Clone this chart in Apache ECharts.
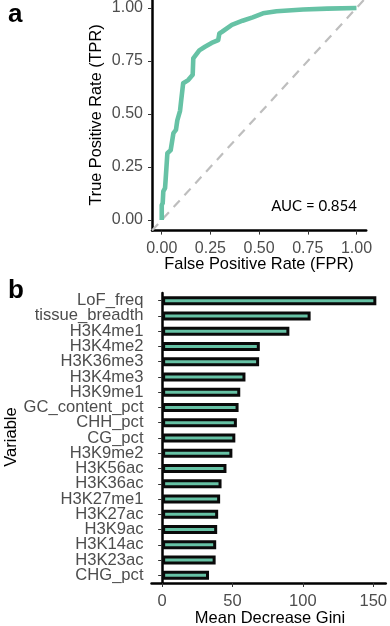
<!DOCTYPE html>
<html>
<head>
<meta charset="utf-8">
<script src="https://cdn.jsdelivr.net/npm/echarts@6/dist/echarts.min.js"></script>
<style>
html,body{margin:0;padding:0;background:#fff;}
#chart{width:390px;height:626px;}
</style>
</head>
<body>
<div id="chart"></div>
<script>
// ---- Panel a: ROC curve ----
const rocFPR = [0, 0, 0.005, 0.008, 0.017, 0.02, 0.029, 0.046, 0.06, 0.073, 0.08, 0.094, 0.10, 0.11, 0.136, 0.159, 0.162, 0.193, 0.222, 0.256, 0.29, 0.296, 0.31, 0.36, 0.415, 0.467, 0.52, 0.59, 0.726, 0.85, 1.0];
const rocTPR = [0, 0.07, 0.08, 0.135, 0.15, 0.19, 0.315, 0.33, 0.41, 0.425, 0.47, 0.515, 0.565, 0.645, 0.66, 0.685, 0.762, 0.80, 0.817, 0.835, 0.848, 0.88, 0.888, 0.92, 0.94, 0.956, 0.975, 0.985, 0.993, 0.997, 1.0];
const chanceLine = [[-0.05, -0.05], [1.05, 1.05]];
const rocTicks = [0, 0.25, 0.5, 0.75, 1];
const aucText = 'AUC = 0.854';

// ---- Panel b: variable importance ----
const variables = ['LoF_freq', 'tissue_breadth', 'H3K4me1', 'H3K4me2', 'H3K36me3', 'H3K4me3', 'H3K9me1', 'GC_content_pct', 'CHH_pct', 'CG_pct', 'H3K9me2', 'H3K56ac', 'H3K36ac', 'H3K27me1', 'H3K27ac', 'H3K9ac', 'H3K14ac', 'H3K23ac', 'CHG_pct'];
const giniValues = [152.2, 105.5, 90.4, 69.4, 68.9, 59.2, 55.5, 54.3, 53.1, 52.0, 49.9, 45.7, 42.2, 41.2, 39.8, 39.1, 38.4, 38.0, 33.3];
const giniTicks = [0, 50, 100, 150];

const FONT = "'Liberation Sans', Arial, Helvetica, sans-serif";
const GREEN = '#66C2A5';
const LABEL_COL = '#4D4D4D';

const rocData = rocFPR.map((x, i) => [x, rocTPR[i]]);

const chart = echarts.init(document.getElementById('chart'), null, {renderer: 'canvas'});
const option = {
  backgroundColor: '#ffffff',
  animation: false,
  grid: [
    {left: 152, top: 0, width: 214.2, height: 230.6},
    {left: 151.5, top: 293, width: 238.5, height: 290}
  ],
  xAxis: [
    {
      gridIndex: 0, type: 'value', min: -0.05, max: 1.05,
      splitLine: {show: false},
      axisLine: {show: true, onZero: false, lineStyle: {color: '#000', width: 2.5}},
      axisTick: {show: true, length: 4, customValues: rocTicks, lineStyle: {color: '#333', width: 1}},
      axisLabel: {customValues: rocTicks, margin: 10, color: LABEL_COL, fontSize: 16, fontFamily: FONT,
        formatter: v => v.toFixed(2)}
    },
    {
      gridIndex: 1, type: 'value', min: -7.57, max: 158.9,
      splitLine: {show: false},
      axisLine: {show: true, onZero: false, lineStyle: {color: '#000', width: 2.5}},
      axisTick: {show: true, length: 4, customValues: giniTicks, lineStyle: {color: '#333', width: 1}},
      axisLabel: {customValues: giniTicks, margin: 10, color: LABEL_COL, fontSize: 16.5, fontFamily: FONT,
        formatter: v => String(v)}
    }
  ],
  yAxis: [
    {
      gridIndex: 0, type: 'value', min: -0.05, max: 1.035,
      splitLine: {show: false},
      axisLine: {show: true, onZero: false, lineStyle: {color: '#000', width: 2.5}},
      axisTick: {show: true, length: 4, customValues: rocTicks, lineStyle: {color: '#333', width: 1}},
      axisLabel: {customValues: rocTicks, margin: 9, color: LABEL_COL, fontSize: 16, fontFamily: FONT,
        formatter: v => v.toFixed(2)}
    },
    {
      gridIndex: 1, type: 'category', data: variables, inverse: true,
      axisLine: {show: true, lineStyle: {color: '#000', width: 2.5}},
      axisTick: {show: true, length: 4, alignWithLabel: true, lineStyle: {color: '#333', width: 1}},
      axisLabel: {interval: 0, margin: 8, color: LABEL_COL, fontSize: 16.6, fontFamily: FONT}
    }
  ],
  series: [
    {
      type: 'line', xAxisIndex: 0, yAxisIndex: 0, data: chanceLine,
      showSymbol: false, silent: true, z: 1,
      lineStyle: {color: '#BEBEBE', width: 2.2, type: [9, 7]}
    },
    {
      type: 'line', xAxisIndex: 0, yAxisIndex: 0, data: rocData,
      showSymbol: false, z: 2,
      lineStyle: {color: GREEN, width: 4.6, join: 'round'}
    },
    {
      type: 'bar', xAxisIndex: 1, yAxisIndex: 1, data: giniValues,
      barWidth: 9,
      itemStyle: {color: GREEN, borderColor: '#0a0a0a', borderWidth: 3}
    }
  ],
  graphic: [
    {type: 'text', left: 8, top: 2, style: {text: 'a', font: "bold 26px " + FONT, fill: '#000'}},
    {type: 'text', left: 8, top: 278, style: {text: 'b', font: "bold 26px " + FONT, fill: '#000'}},
    {type: 'text', x: 97, y: 115, rotation: Math.PI / 2,
      style: {text: 'True Positive Rate (TPR)', font: "16.3px " + FONT, fill: '#000', align: 'center', verticalAlign: 'middle'}},
    {type: 'text', x: 259, y: 264,
      style: {text: 'False Positive Rate (FPR)', font: "16.4px " + FONT, fill: '#000', align: 'center', verticalAlign: 'middle'}},
    {type: 'text', x: 314, y: 206,
      style: {text: aucText, font: "15px Lato, 'Open Sans', sans-serif", fill: '#000', align: 'center', verticalAlign: 'middle'}},
    {type: 'text', x: 11, y: 437, rotation: Math.PI / 2,
      style: {text: 'Variable', font: "16.5px " + FONT, fill: '#000', align: 'center', verticalAlign: 'middle'}},
    {type: 'text', x: 270, y: 618,
      style: {text: 'Mean Decrease Gini', font: "16.5px " + FONT, fill: '#000', align: 'center', verticalAlign: 'middle'}}
  ]
};
chart.setOption(option);
</script>
</body>
</html>
